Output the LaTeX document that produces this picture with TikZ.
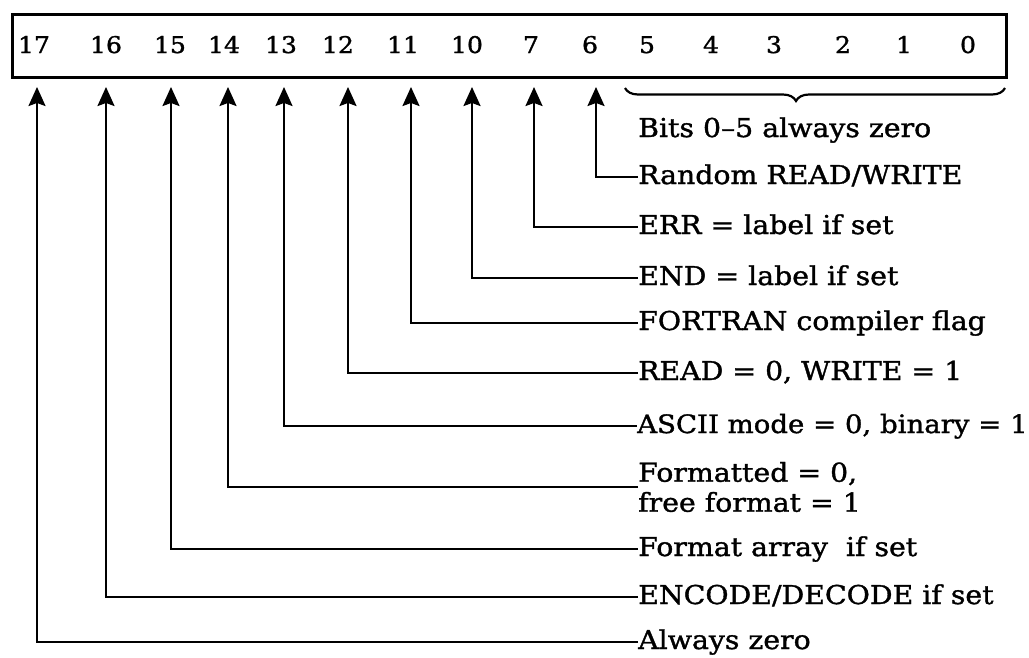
\documentclass[tikz,border=0pt]{standalone}
\usepackage{fontspec}
\setmainfont{DejaVu Serif}[FakeStretch=1.09, FakeBold=1.3]
\usetikzlibrary{arrows.meta,decorations.pathreplacing}
\begin{document}
\begin{tikzpicture}[x=1pt,y=-1pt,
  bitnum/.style={font=\fontsize{23}{26}\selectfont, inner sep=0pt, anchor=base},
  lbl/.style={font=\fontsize{26}{30}\selectfont, inner sep=0pt, anchor=west, text height=18pt, text depth=4pt},
  lbltwo/.style={font=\fontsize{26}{30}\selectfont, inner sep=0pt, anchor=west, align=left},
  conn/.style={line width=2.2pt, -{Stealth[length=19pt,width=17pt,inset=3pt]}},
  regbox/.style={draw, line width=2.5pt, minimum width=994pt, minimum height=63pt, anchor=north west, inner sep=0pt},
  bracestyle/.style={decorate, decoration={brace, mirror, amplitude=13pt, aspect=0.45}, line width=2.2pt},
]
\useasboundingbox (0,0) rectangle (1029,657);
\fill[white] (0,0) rectangle (1029,657);
\node[regbox] (reg) at (11,13) {};
% bit numbers
\node[bitnum] (n17) at (34,53) {17};
\node[bitnum] (n16) at (106,53) {16};
\node[bitnum] (n15) at (170,53) {15};
\node[bitnum] (n14) at (224,53) {14};
\node[bitnum] (n13) at (281,53) {13};
\node[bitnum] (n12) at (338,53) {12};
\node[bitnum] (n11) at (403,53) {11};
\node[bitnum] (n10) at (467,53) {10};
\node[bitnum] (n7) at (531,53) {7};
\node[bitnum] (n6) at (590,53) {6};
\node[bitnum] (n5) at (647,53) {5};
\node[bitnum] (n4) at (711,53) {4};
\node[bitnum] (n3) at (774,53) {3};
\node[bitnum] (n2) at (843,53) {2};
\node[bitnum] (n1) at (904,53) {1};
\node[bitnum] (n0) at (968,53) {0};
% arrow tips
\coordinate (t17) at (37,87);
\coordinate (t16) at (106,87);
\coordinate (t15) at (171,87);
\coordinate (t14) at (228,87);
\coordinate (t13) at (284,87);
\coordinate (t12) at (348,87);
\coordinate (t11) at (411,87);
\coordinate (t10) at (472,87);
\coordinate (t7) at (534,87);
\coordinate (t6) at (596,87);
% brace
\coordinate (bra) at (625,88);
\coordinate (brb) at (1005,88);
\draw[bracestyle] (bra) -- (brb);
\node[font=\fontsize{26}{30}\selectfont, inner sep=0pt, anchor=base west] (lbits) at (638,137) {Bits 0--5 always zero};
% labels
\node[lbl] (l6) at (638,177) {Random READ/WRITE};
\node[lbl] (l7) at (638,227) {ERR = label if set};
\node[lbl] (l10) at (638,278) {END = label if set};
\node[lbl] (l11) at (638,323) {FORTRAN compiler flag};
\node[lbl] (l12) at (638,373) {READ = 0, WRITE = 1};
\node[lbl, font=\fontsize{25.3}{30}\selectfont] (l13) at (637,426) {ASCII mode = 0, binary = 1};
\node[lbltwo] (l14) at (638,487) {Formatted = 0,\\free format = 1};
\node[lbl] (l15) at (638,549) {Format array~ if set};
\node[lbl] (l16) at (638,597) {ENCODE/DECODE if set};
\node[lbl] (l17) at (638,642) {Always zero};
% connectors
\draw[conn] (l6.west) -| (t6);
\draw[conn] (l7.west) -| (t7);
\draw[conn] (l10.west) -| (t10);
\draw[conn] (l11.west) -| (t11);
\draw[conn] (l12.west) -| (t12);
\draw[conn] (l13.west) -| (t13);
\draw[conn] (l14.west) -| (t14);
\draw[conn] (l15.west) -| (t15);
\draw[conn] (l16.west) -| (t16);
\draw[conn] (l17.west) -| (t17);
\end{tikzpicture}
\end{document}
